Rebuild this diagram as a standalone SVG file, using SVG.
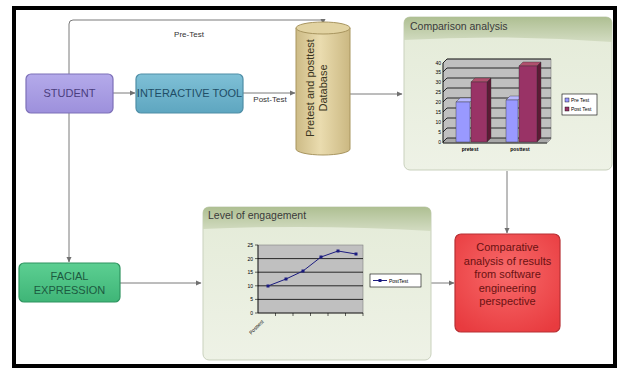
<svg xmlns="http://www.w3.org/2000/svg" width="621" height="370" viewBox="0 0 621 370">
<defs>
<marker id="arr" markerWidth="6" markerHeight="6" refX="5" refY="3" orient="auto" markerUnits="userSpaceOnUse"><path d="M0,0.5 L5.5,3 L0,5.5 z" fill="#707070"/></marker>
<linearGradient id="gStudent" x1="0" y1="0" x2="0" y2="1"><stop offset="0" stop-color="#b4aaea"/><stop offset="1" stop-color="#9d90dc"/></linearGradient>
<linearGradient id="gTool" x1="0" y1="0" x2="0" y2="1"><stop offset="0" stop-color="#7fc0d6"/><stop offset="1" stop-color="#5ea6c0"/></linearGradient>
<linearGradient id="gFace" x1="0" y1="0" x2="0" y2="1"><stop offset="0" stop-color="#5ccf92"/><stop offset="1" stop-color="#3fb577"/></linearGradient>
<radialGradient id="gRed" cx="0.5" cy="0.4" r="0.7"><stop offset="0" stop-color="#f86a6a"/><stop offset="1" stop-color="#e83b3f"/></radialGradient>
<linearGradient id="gCyl" x1="0" y1="0" x2="1" y2="0"><stop offset="0" stop-color="#cdbb86"/><stop offset="0.45" stop-color="#eadcaf"/><stop offset="1" stop-color="#cbb882"/></linearGradient>
<linearGradient id="gHead" x1="0" y1="0" x2="0" y2="1"><stop offset="0" stop-color="#aebf92"/><stop offset="1" stop-color="#d3dcc2"/></linearGradient>
<linearGradient id="gPanel" x1="0" y1="0" x2="0" y2="1"><stop offset="0" stop-color="#e4ebd8"/><stop offset="1" stop-color="#eef2e6"/></linearGradient>
</defs>
<style>
.lbl{font-family:"Liberation Sans",Arial,sans-serif;}
.conn{fill:none;stroke:#7a7a7a;stroke-width:1;}
.node{font-family:"Liberation Sans",Arial,sans-serif;font-size:11px;text-anchor:middle;}
.panel{fill:url(#gPanel);stroke:#c9d1bd;stroke-width:1;}
.ptitle{font-family:"Liberation Sans",Arial,sans-serif;font-size:10.5px;fill:#3a3a3a;}
.ax{font-family:"Liberation Sans",Arial,sans-serif;font-size:5px;fill:#000;}
.grid{stroke:#000;stroke-width:0.8;}
</style>
<rect x="0" y="0" width="621" height="370" fill="#ffffff"/>
<rect x="14" y="8" width="601" height="358" fill="#ffffff" stroke="#000" stroke-width="4"/>

<g id="connectors">
<path class="conn" d="M69,74 V24 Q69,20 73,20 H323 V24" marker-end="url(#arr)"/>
<line class="conn" x1="113" y1="93" x2="135" y2="93" marker-end="url(#arr)"/>
<line class="conn" x1="243" y1="93" x2="295" y2="93" marker-end="url(#arr)"/>
<line class="conn" x1="350" y1="94" x2="402" y2="94" marker-end="url(#arr)"/>
<line class="conn" x1="69" y1="113" x2="69" y2="262" marker-end="url(#arr)"/>
<line class="conn" x1="120" y1="283" x2="201" y2="283" marker-end="url(#arr)"/>
<line class="conn" x1="507" y1="171" x2="507" y2="233" marker-end="url(#arr)"/>
<line class="conn" x1="431" y1="283" x2="454" y2="283" marker-end="url(#arr)"/>
<text class="lbl" x="189" y="37" font-size="8" text-anchor="middle" fill="#333">Pre-Test</text>
<text class="lbl" x="270" y="102" font-size="8" text-anchor="middle" fill="#333">Post-Test</text>
</g>

<g id="student">
<rect x="26" y="74" width="87" height="39" rx="5" fill="url(#gStudent)" stroke="#7d70b8" stroke-width="1.2"/>
<text class="node" x="69.5" y="97" fill="#4a3d7e">STUDENT</text>
</g>

<g id="interactive-tool">
<rect x="136" y="74" width="107" height="39" rx="5" fill="url(#gTool)" stroke="#4e8ea6" stroke-width="1.2"/>
<text class="node" x="189.5" y="97" fill="#1f4d66">INTERACTIVE TOOL</text>
</g>

<g id="database">
<path d="M296,28 V149 A27,6 0 0 0 350,149 V28" fill="url(#gCyl)" stroke="#a8955f" stroke-width="1"/>
<ellipse cx="323" cy="28" rx="27" ry="6" fill="#e2d3a2" stroke="#a8955f" stroke-width="1"/>
<text class="node" transform="translate(314,88) rotate(-90)" fill="#3a3520">Pretest and posttest</text>
<text class="node" transform="translate(327,88) rotate(-90)" fill="#3a3520">Database</text>
</g>

<g id="comparison-analysis">
<rect x="404" y="17" width="208" height="153" rx="6" class="panel"/>
<path d="M404,23 Q404,17 410,17 H606 Q612,17 612,23 V42 Q508,34 404,40 Z" fill="url(#gHead)"/>
<text class="ptitle" x="410" y="30">Comparison analysis</text>
<!-- 3D chart -->
<polygon points="443,63 447,59 551,59 551,139 547,143 443,143" fill="#c0c0c0" stroke="#808080" stroke-width="0.6"/>
<polygon points="443,142 447,138 551,138 547,142" fill="#a8a8a8"/>
<g class="grid">
<line x1="443" y1="142" x2="447" y2="138"/><line x1="447" y1="138" x2="551" y2="138"/>
<line x1="443" y1="132" x2="447" y2="128"/><line x1="447" y1="128" x2="551" y2="128"/>
<line x1="443" y1="122" x2="447" y2="118"/><line x1="447" y1="118" x2="551" y2="118"/>
<line x1="443" y1="112" x2="447" y2="108"/><line x1="447" y1="108" x2="551" y2="108"/>
<line x1="443" y1="102" x2="447" y2="98"/><line x1="447" y1="98" x2="551" y2="98"/>
<line x1="443" y1="92" x2="447" y2="88"/><line x1="447" y1="88" x2="551" y2="88"/>
<line x1="443" y1="82" x2="447" y2="78"/><line x1="447" y1="78" x2="551" y2="78"/>
<line x1="443" y1="72" x2="447" y2="68"/><line x1="447" y1="68" x2="551" y2="68"/>
<line x1="443" y1="63" x2="447" y2="59"/><line x1="447" y1="59" x2="551" y2="59"/>
</g>
<line x1="443" y1="63" x2="443" y2="143" stroke="#000" stroke-width="0.8"/>
<line x1="443" y1="143" x2="547" y2="143" stroke="#000" stroke-width="0.8"/>
<g class="ax" text-anchor="end">
<text x="441" y="144">0</text><text x="441" y="134">5</text><text x="441" y="124">10</text><text x="441" y="114">15</text>
<text x="441" y="104">20</text><text x="441" y="94">25</text><text x="441" y="84">30</text><text x="441" y="74">35</text><text x="441" y="65">40</text>
</g>
<!-- bars -->
<polygon points="456,102 460,98 474,98 470,102" fill="#b8b8ff" stroke="#333" stroke-width="0.4"/>
<rect x="456" y="102" width="14" height="40" fill="#9999ff" stroke="#333" stroke-width="0.4"/>
<polygon points="471,82 475,78 491,78 487,82" fill="#b0506e" stroke="#333" stroke-width="0.4"/>
<polygon points="487,82 491,78 491,138 487,142" fill="#5e1a36" stroke="#333" stroke-width="0.4"/>
<rect x="471" y="82" width="16" height="60" fill="#993366" stroke="#333" stroke-width="0.4"/>
<polygon points="506,100 510,96 522,96 518,100" fill="#b8b8ff" stroke="#333" stroke-width="0.4"/>
<rect x="506" y="100" width="12" height="42" fill="#9999ff" stroke="#333" stroke-width="0.4"/>
<polygon points="519,66 523,62 541,62 537,66" fill="#b0506e" stroke="#333" stroke-width="0.4"/>
<polygon points="537,66 541,62 541,138 537,142" fill="#5e1a36" stroke="#333" stroke-width="0.4"/>
<rect x="519" y="66" width="18" height="76" fill="#993366" stroke="#333" stroke-width="0.4"/>
<text class="ax" x="470" y="151" text-anchor="middle" font-weight="bold">pretest</text>
<text class="ax" x="520" y="151" text-anchor="middle" font-weight="bold">posttest</text>
<rect x="562" y="94" width="35" height="21" fill="#fff" stroke="#000" stroke-width="0.6"/>
<rect x="565" y="98" width="4" height="4" fill="#9999ff" stroke="#000" stroke-width="0.4"/>
<rect x="565" y="107" width="4" height="4" fill="#993366" stroke="#000" stroke-width="0.4"/>
<text class="ax" x="571" y="102">Pre Test</text>
<text class="ax" x="571" y="111">Post Test</text>
</g>

<g id="level-of-engagement">
<rect x="203" y="207" width="228" height="153" rx="6" class="panel"/>
<path d="M203,213 Q203,207 209,207 H425 Q431,207 431,213 V231 Q317,224 203,229 Z" fill="url(#gHead)"/>
<text class="ptitle" x="208" y="219">Level of engagement</text>
<rect x="258" y="245" width="105" height="68" fill="#c0c0c0" stroke="#808080" stroke-width="0.6"/>
<g class="grid">
<line x1="258" y1="299.4" x2="363" y2="299.4"/>
<line x1="258" y1="285.8" x2="363" y2="285.8"/>
<line x1="258" y1="272.2" x2="363" y2="272.2"/>
<line x1="258" y1="258.6" x2="363" y2="258.6"/>
</g>
<line x1="258" y1="245" x2="258" y2="313" stroke="#000" stroke-width="0.8"/>
<line x1="258" y1="313" x2="363" y2="313" stroke="#000" stroke-width="0.8"/>
<g stroke="#000" stroke-width="0.6">
<line x1="255" y1="245" x2="258" y2="245"/><line x1="255" y1="258.6" x2="258" y2="258.6"/><line x1="255" y1="272.2" x2="258" y2="272.2"/>
<line x1="255" y1="285.8" x2="258" y2="285.8"/><line x1="255" y1="299.4" x2="258" y2="299.4"/><line x1="255" y1="313" x2="258" y2="313"/>
<line x1="275.5" y1="313" x2="275.5" y2="316"/><line x1="293" y1="313" x2="293" y2="316"/><line x1="310.5" y1="313" x2="310.5" y2="316"/>
<line x1="328" y1="313" x2="328" y2="316"/><line x1="345.5" y1="313" x2="345.5" y2="316"/><line x1="363" y1="313" x2="363" y2="316"/>
</g>
<g class="ax" text-anchor="end" font-size="5.5">
<text x="253" y="247">25</text><text x="253" y="260.6">20</text><text x="253" y="274.2">15</text>
<text x="253" y="287.8">10</text><text x="253" y="301.4">5</text><text x="253" y="315">0</text>
</g>
<polyline points="268,286 286,279 303,271 321,257 338,251 356,254" fill="none" stroke="#1c1c80" stroke-width="1"/>
<g fill="#1c1c80">
<rect x="266.5" y="284.5" width="3" height="3"/><rect x="284.5" y="277.5" width="3" height="3"/><rect x="301.5" y="269.5" width="3" height="3"/>
<rect x="319.5" y="255.5" width="3" height="3"/><rect x="336.5" y="249.5" width="3" height="3"/><rect x="354.5" y="252.5" width="3" height="3"/>
</g>
<text class="ax" transform="translate(264,322) rotate(-45)" text-anchor="end" font-size="5.5">Posttest</text>
<rect x="370" y="274" width="51" height="13" fill="#fff" stroke="#000" stroke-width="0.6"/>
<line x1="373" y1="280.5" x2="387" y2="280.5" stroke="#1c1c80" stroke-width="1"/>
<rect x="378.5" y="279" width="3" height="3" fill="#1c1c80"/>
<text class="ax" x="389" y="282.5" font-size="5.5">PostTest</text>
</g>

<g id="facial-expression">
<rect x="19" y="263" width="101" height="39" rx="5" fill="url(#gFace)" stroke="#2f9460" stroke-width="1.2"/>
<text class="node" x="69.5" y="279.5" fill="#1c5a40">FACIAL</text>
<text class="node" x="69.5" y="293.5" fill="#1c5a40">EXPRESSION</text>
</g>

<g id="comparative-analysis">
<rect x="455" y="234" width="105" height="98" rx="6" fill="url(#gRed)" stroke="#b83034" stroke-width="1.2"/>
<g class="node" font-size="10" fill="#6a1212">
<text x="507.5" y="251">Comparative</text>
<text x="507.5" y="264.5">analysis of results</text>
<text x="507.5" y="278">from software</text>
<text x="507.5" y="291.5">engineering</text>
<text x="507.5" y="305">perspective</text>
</g>
</g>
</svg>
